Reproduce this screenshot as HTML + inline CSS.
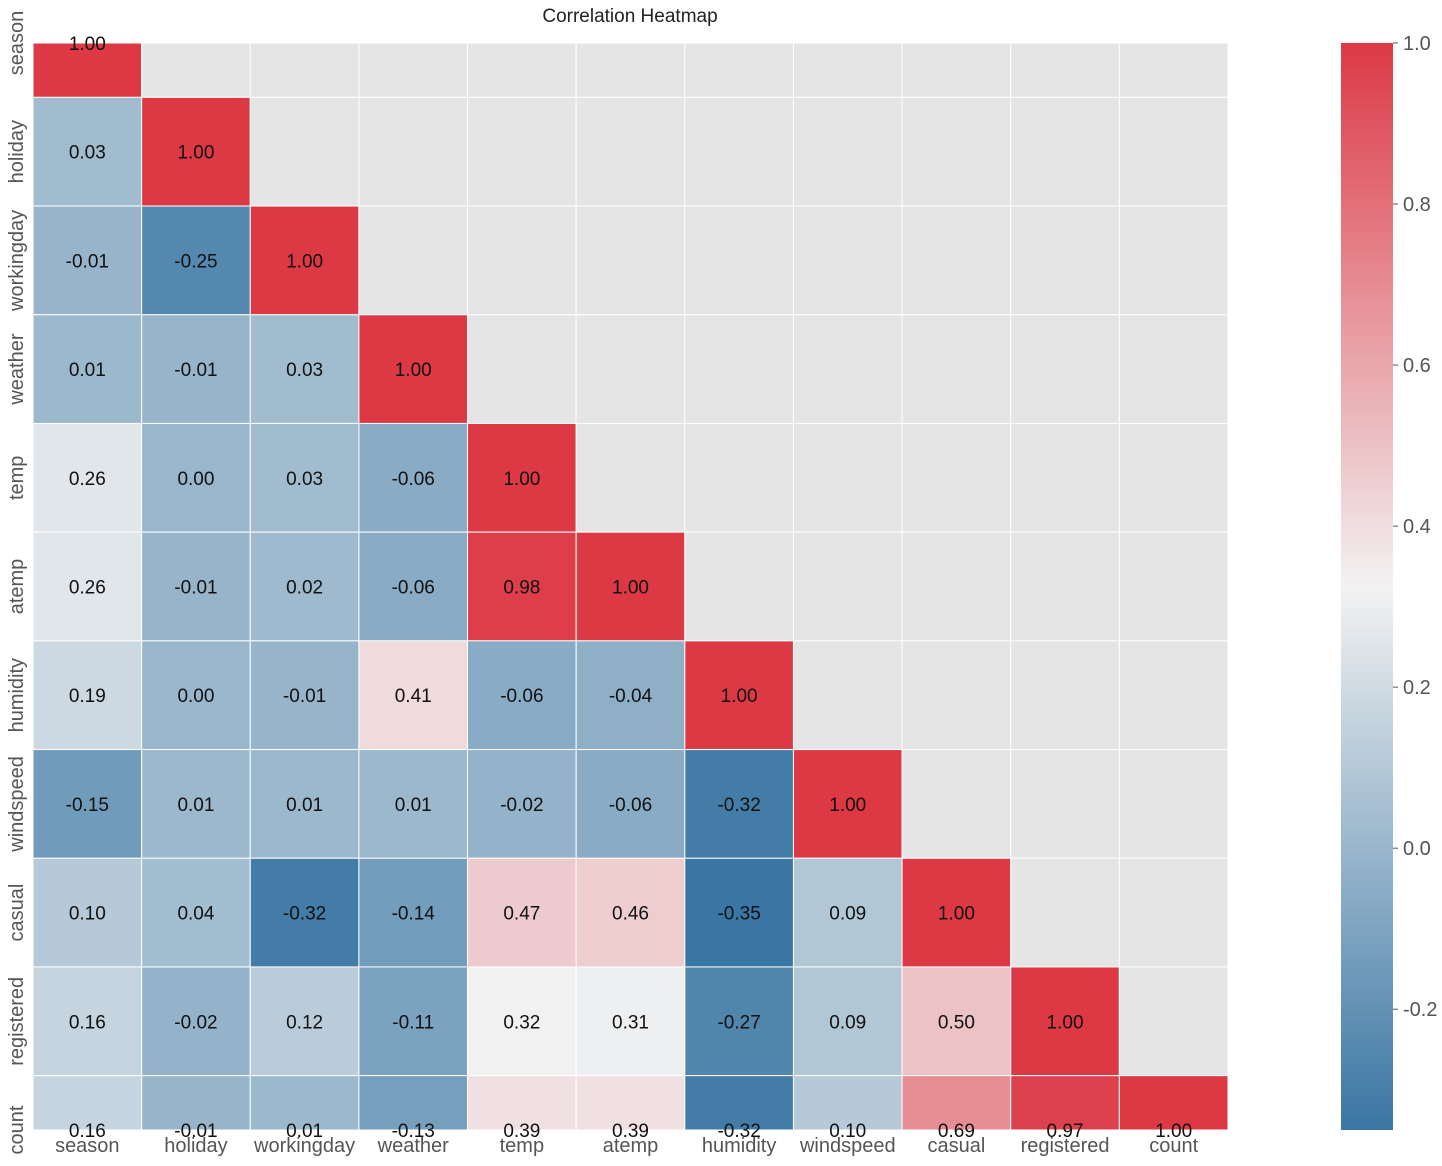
<!DOCTYPE html>
<html><head><meta charset="utf-8">
<style>
body{margin:0;background:#fff;}
svg{display:block;font-family:"Liberation Sans",sans-serif;}
</style></head>
<body>
<svg id="chart" width="1442" height="1166" xmlns="http://www.w3.org/2000/svg">
<text x="630" y="22" text-anchor="middle" font-size="19" fill="#222">Correlation Heatmap</text>
<g id="cells"></g>
<g id="xlabels"></g>
<g id="ylabels"></g>
<g id="cbar"></g>
</svg>
<script>
const labels = ["season","holiday","workingday","weather","temp","atemp","humidity","windspeed","casual","registered","count"];
const row0 = [1.00];
const row1 = [0.03,1.00];
const row2 = [-0.01,-0.25,1.00];
const row3 = [0.01,-0.01,0.03,1.00];
const row4 = [0.26,0.00,0.03,-0.06,1.00];
const row5 = [0.26,-0.01,0.02,-0.06,0.98,1.00];
const row6 = [0.19,0.00,-0.01,0.41,-0.06,-0.04,1.00];
const row7 = [-0.15,0.01,0.01,0.01,-0.02,-0.06,-0.32,1.00];
const row8 = [0.10,0.04,-0.32,-0.14,0.47,0.46,-0.35,0.09,1.00];
const row9 = [0.16,-0.02,0.12,-0.11,0.32,0.31,-0.27,0.09,0.50,1.00];
const row10 = [0.16,-0.01,0.01,-0.13,0.39,0.39,-0.32,0.10,0.69,0.97,1.00];
const cbTicks = [-0.2,0.0,0.2,0.4,0.6,0.8,1.0];
const rows=[row0,row1,row2,row3,row4,row5,row6,row7,row8,row9,row10];
const vmin=-0.35, vmax=1.0;
const NS="http://www.w3.org/2000/svg";
const X0=33,X1=1228,Y0=43,Y1=1130,n=labels.length;
const cw=(X1-X0)/n, ch=(Y1-Y0)/(n-1);
const xc=i=>X0+cw*(i+0.5);
const yc=i=>Y0+ch*i;
function lerp(a,b,t){return a.map((v,k)=>Math.round(v+(b[k]-v)*t));}
function color(v){
  const lo=[58,118,163], mid=[242,242,242], hi=[220,57,69], c=(vmin+vmax)/2;
  let rgb = v<c ? lerp(lo,mid,(v-vmin)/(c-vmin)) : lerp(mid,hi,Math.min(1,(v-c)/(vmax-c)));
  return `rgb(${rgb.join(",")})`;
}
function mk(tag,attrs,parent){const e=document.createElementNS(NS,tag);for(const k in attrs)e.setAttribute(k,attrs[k]);parent.appendChild(e);return e;}
const cells=document.getElementById("cells");
mk("rect",{x:X0,y:Y0,width:X1-X0,height:Y1-Y0,fill:"#e5e5e5"},cells);
for(let r=0;r<n;r++){
  for(let c=0;c<n;c++){
    const top=Math.max(Y0,yc(r)-ch/2), bot=Math.min(Y1,yc(r)+ch/2);
    const v=rows[r][c];
    const rect=mk("rect",{x:X0+cw*c,y:top,width:cw,height:bot-top,fill:v===undefined?"#e5e5e5":color(v),stroke:"#fff","stroke-width":1},cells);
    
    
    if(v!==undefined){
      const t=mk("text",{x:xc(c),y:yc(r)+7,"text-anchor":"middle","font-size":19,fill:"#111"},cells);
      t.textContent=v.toFixed(2);
      
      
    }
  }
}
const xl=document.getElementById("xlabels"), yl=document.getElementById("ylabels");
labels.forEach((l,i)=>{
  const t=mk("text",{x:xc(i),y:1152,"text-anchor":"middle","font-size":20,fill:"#555"},xl);
  t.textContent=l;
  
  
  const u=mk("text",{transform:`translate(23,${yc(i)}) rotate(-90)`,"text-anchor":"middle","font-size":20,fill:"#555"},yl);
  u.textContent=l;
  
  
});
const cb=document.getElementById("cbar");
const CX=1341,CW=52;
const cy=v=>Y1-(v-vmin)/(vmax-vmin)*(Y1-Y0);
const defs=mk("defs",{},cb);
const g=mk("linearGradient",{id:"grad",x1:0,y1:1,x2:0,y2:0},defs);
for(let k=0;k<=20;k++){const v=vmin+(vmax-vmin)*k/20;mk("stop",{offset:(k/20),"stop-color":color(v)},g);}
const cr=mk("rect",{x:CX,y:Y0,width:CW,height:Y1-Y0,fill:"url(#grad)"},cb);


cbTicks.forEach(v=>{
  mk("line",{x1:CX+CW,x2:CX+CW+5,y1:cy(v),y2:cy(v),stroke:"#555"},cb);
  const t=mk("text",{x:CX+CW+10,y:cy(v)+7,"font-size":20,fill:"#555"},cb);
  t.textContent=v.toFixed(1);
  
  
});
</script>
</body></html>
